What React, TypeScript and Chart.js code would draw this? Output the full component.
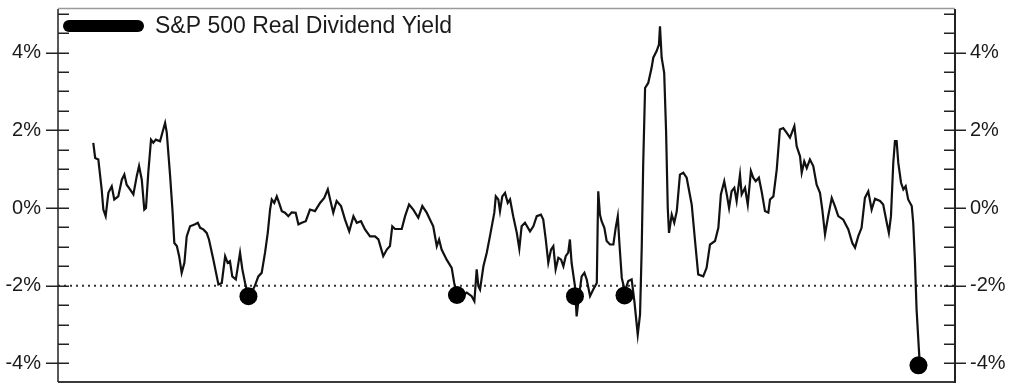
import React, { useEffect, useRef } from "react";
import { Chart, registerables } from "chart.js";

Chart.register(...registerables);

const years: number[] = [
  1983.01, 1983.10, 1983.25, 1983.41, 1983.49, 1983.60, 1983.73, 1983.89, 1984.01, 1984.20,
  1984.37, 1984.49, 1984.60, 1984.76, 1984.92, 1985.08, 1985.19, 1985.32, 1985.44, 1985.52,
  1985.63, 1985.76, 1985.87, 1985.99, 1986.19, 1986.30, 1986.43, 1986.51, 1986.67, 1986.78,
  1986.87, 1986.99, 1987.10, 1987.22, 1987.35, 1987.46, 1987.62, 1987.86, 1987.99, 1988.10,
  1988.25, 1988.41, 1988.52, 1988.73, 1988.97, 1989.13, 1989.29, 1989.41, 1989.52, 1989.63,
  1989.80, 1990.00, 1990.11, 1990.24, 1990.40, 1990.57, 1990.71, 1990.87, 1991.03, 1991.19,
  1991.32, 1991.43, 1991.51, 1991.63, 1991.75, 1991.86, 1991.99, 1992.14, 1992.30, 1992.46,
  1992.65, 1992.78, 1992.94, 1993.13, 1993.33, 1993.57, 1993.81, 1994.01, 1994.18, 1994.29,
  1994.44, 1994.60, 1994.81, 1995.00, 1995.20, 1995.40, 1995.56, 1995.76, 1995.95, 1996.19,
  1996.43, 1996.59, 1996.82, 1996.99, 1997.14, 1997.25, 1997.38, 1997.70, 1997.86, 1998.05,
  1998.25, 1998.49, 1998.68, 1998.89, 1999.05, 1999.20, 1999.37, 1999.48, 1999.60, 1999.84,
  2000.08, 2000.20, 2000.32, 2000.56, 2000.80, 2001.03, 2001.16, 2001.27, 2001.35, 2001.43,
  2001.59, 2001.75, 2001.90, 2002.11, 2002.18, 2002.30, 2002.38, 2002.49, 2002.62, 2002.75,
  2002.86, 2003.01, 2003.18, 2003.30, 2003.41, 2003.57, 2003.81, 2003.97, 2004.13, 2004.33,
  2004.44, 2004.56, 2004.68, 2004.81, 2004.92, 2005.03, 2005.16, 2005.29, 2005.40, 2005.51,
  2005.63, 2005.71, 2005.79, 2005.95, 2006.03, 2006.14, 2006.27, 2006.40, 2006.51, 2006.67,
  2006.82, 2006.99, 2007.03, 2007.06, 2007.14, 2007.22, 2007.35, 2007.46, 2007.62, 2007.78,
  2007.89, 2007.99, 2008.06, 2008.18, 2008.33, 2008.49, 2008.65, 2008.78, 2008.94, 2009.05,
  2009.13, 2009.20, 2009.29, 2009.44, 2009.60, 2009.68, 2009.84, 2009.95, 2010.00, 2010.08,
  2010.20, 2010.29, 2010.37, 2010.43, 2010.56, 2010.68, 2010.80, 2010.95, 2011.11, 2011.27,
  2011.51, 2011.67, 2011.82, 2012.06, 2012.22, 2012.38, 2012.62, 2012.78, 2012.90, 2013.06,
  2013.18, 2013.29, 2013.41, 2013.54, 2013.65, 2013.81, 2013.89, 2014.05, 2014.18, 2014.33,
  2014.44, 2014.56, 2014.71, 2014.84, 2015.00, 2015.16, 2015.24, 2015.40, 2015.56, 2015.71,
  2015.87, 2016.03, 2016.19, 2016.40, 2016.51, 2016.67, 2016.75, 2016.87, 2016.99, 2017.14,
  2017.30, 2017.46, 2017.62, 2017.73, 2017.86, 2018.01, 2018.18, 2018.33, 2018.49, 2018.73,
  2018.97, 2019.16, 2019.29, 2019.44, 2019.60, 2019.76, 2019.92, 2020.08, 2020.24, 2020.48,
  2020.63, 2020.80, 2020.90, 2021.00, 2021.11, 2021.19, 2021.27, 2021.35, 2021.48, 2021.59,
  2021.70, 2021.82, 2021.99, 2022.06, 2022.14, 2022.22, 2022.33, 2022.38,
];

const realYield: number[] = [
  1.68, 1.29, 1.25, 0.48, -0.04, -0.21, 0.39, 0.56, 0.22, 0.30,
  0.73, 0.86, 0.60, 0.48, 0.35, 0.82, 1.08, 0.73, -0.04, 0.00,
  0.91, 1.76, 1.68, 1.76, 1.72, 1.94, 2.19, 1.94, 0.82, -0.04,
  -0.90, -0.98, -1.24, -1.67, -1.41, -0.73, -0.47, -0.42, -0.38, -0.51,
  -0.55, -0.64, -0.81, -1.33, -1.97, -1.93, -1.24, -1.41, -1.37, -1.76,
  -1.84, -1.15, -1.58, -1.93, -2.27, -2.15, -2.00, -1.76, -1.67, -1.15,
  -0.64, -0.04, 0.22, 0.13, 0.30, 0.13, -0.08, -0.12, -0.21, -0.11,
  -0.12, -0.42, -0.38, -0.34, -0.04, -0.08, 0.13, 0.26, 0.48, 0.22,
  -0.12, 0.18, 0.05, -0.30, -0.60, -0.21, -0.38, -0.34, -0.55, -0.73,
  -0.73, -0.81, -1.24, -1.07, -0.98, -0.47, -0.54, -0.54, -0.21, 0.09,
  -0.04, -0.25, 0.05, -0.12, -0.30, -0.47, -0.98, -0.81, -1.07, -1.33,
  -1.54, -1.93, -2.23, -2.27, -2.18, -2.27, -2.40, -1.58, -2.01, -2.10,
  -1.50, -1.15, -0.73, -0.12, 0.30, 0.22, -0.08, 0.30, 0.39, 0.13,
  0.22, -0.21, -0.64, -1.05, -0.47, -0.38, -0.60, -0.47, -0.21, -0.17,
  -0.30, -0.81, -1.41, -1.07, -0.98, -1.58, -1.28, -1.33, -1.50, -1.24,
  -1.15, -0.81, -1.41, -2.01, -2.79, -2.27, -1.76, -1.67, -1.84, -2.27,
  -2.10, -1.93, -0.50, 0.43, -0.17, -0.34, -0.51, -0.85, -0.94, -0.94,
  -0.51, -0.21, -0.85, -1.80, -2.14, -1.88, -1.84, -2.40, -3.26, -2.74,
  -1.02, 1.12, 3.09, 3.22, 3.61, 3.87, 4.04, 4.21, 4.68, 3.87,
  3.48, 1.98, 0.00, -0.64, -0.17, -0.38, -0.08, 0.86, 0.91, 0.78,
  0.09, -0.85, -1.71, -1.76, -1.54, -0.94, -0.85, -0.51, 0.35, 0.69,
  0.35, 0.00, 0.43, 0.52, 0.18, 0.86, 0.35, 0.52, 0.09, 0.95,
  0.78, 0.69, 0.78, 0.43, -0.08, -0.12, 0.22, 0.30, 0.99, 2.02,
  2.06, 1.94, 1.81, 2.11, 1.59, 1.33, 0.91, 1.20, 1.03, 1.25,
  1.08, 0.60, 0.39, -0.04, -0.68, -0.21, 0.26, 0.05, -0.21, -0.30,
  -0.55, -0.90, -1.02, -0.73, -0.51, 0.26, 0.43, -0.04, 0.24, 0.18,
  0.09, -0.38, -0.64, -0.21, 1.16, 1.72, 1.72, 1.16, 0.65, 0.48,
  0.56, 0.22, 0.05, -0.38, -1.33, -2.61, -3.64, -4.07,
];

const markerYears: number[] = [1990.40, 2000.33, 2005.95, 2008.31, 2022.31];
const markerValues: number[] = [-2.27, -2.24, -2.27, -2.25, -4.05];

const thresholdValue = -2;
const yTickValues: number[] = [-4, -2, 0, 2, 4];
const legendLabel = "S&P 500 Real Dividend Yield";

const X_MIN = 1981.33;
const X_MAX = 2024.05;
const Y_MIN = -4.48;
const Y_MAX = 5.15;

const FONT = "'Liberation Sans', Arial, Helvetica, sans-serif";

const framePlugin = {
  id: "framePlugin",
  afterDraw(chart: any) {
    const { ctx, chartArea: a } = chart;
    const ys = chart.scales.y;
    const seg = (x1: number, y1: number, x2: number, y2: number) => {
      ctx.beginPath();
      ctx.moveTo(x1, y1);
      ctx.lineTo(x2, y2);
      ctx.stroke();
    };
    ctx.save();
    // top border
    ctx.strokeStyle = "#9a9a9a";
    ctx.lineWidth = 1.5;
    seg(a.left, a.top + 0.5, a.right, a.top + 0.5);
    // bottom border
    ctx.strokeStyle = "#3a3a3a";
    ctx.lineWidth = 2;
    seg(a.left, a.bottom, a.right, a.bottom);
    // axes
    ctx.strokeStyle = "#222";
    ctx.lineWidth = 1.5;
    seg(a.left, a.top + 1, a.left, a.bottom);
    ctx.lineWidth = 2;
    seg(a.right, a.top + 1, a.right, a.bottom + 1);
    // ticks
    ctx.lineWidth = 1.5;
    ctx.strokeStyle = "#222";
    for (let i = -8; i <= 10; i++) {
      const v = i * 0.5;
      const py = Math.round(ys.getPixelForValue(v)) + 0.25;
      if (py < a.top + 2 || py > a.bottom - 1) continue;
      const major = i % 4 === 0;
      if (major) {
        seg(a.left - 12, py, a.left + 11, py);
        seg(a.right - 11, py, a.right + 11, py);
      } else {
        seg(a.left, py, a.left + 11, py);
        seg(a.right - 11, py, a.right, py);
      }
    }
    // legend
    ctx.strokeStyle = "#000";
    ctx.lineCap = "round";
    ctx.lineWidth = 12;
    seg(a.left + 11, 26, a.left + 80, 26);
    ctx.lineCap = "butt";
    ctx.fillStyle = "#1a1a1a";
    ctx.font = `23px ${FONT}`;
    ctx.textBaseline = "middle";
    ctx.textAlign = "left";
    ctx.fillText(legendLabel, a.left + 97, 27);
    ctx.restore();
  },
};

export default function App() {
  const canvasRef = useRef<HTMLCanvasElement | null>(null);

  useEffect(() => {
    document.body.style.margin = "0";
    document.body.style.background = "#fff";
    const canvas = canvasRef.current;
    if (!canvas) return;

    const lineData = years.map((x, i) => ({ x, y: realYield[i] }));
    const markerData = markerYears.map((x, i) => ({ x, y: markerValues[i] }));
    const thresholdData = [
      { x: X_MIN, y: thresholdValue },
      { x: X_MAX, y: thresholdValue },
    ];

    const tickFont = { family: FONT, size: 20 };

    const chart = new Chart(canvas, {
      type: "line",
      data: {
        datasets: [
          {
            label: "markers",
            data: markerData,
            showLine: false,
            pointRadius: 9,
            pointBackgroundColor: "#000",
            pointBorderColor: "#000",
            pointBorderWidth: 0,
            order: 0,
          },
          {
            label: legendLabel,
            data: lineData,
            borderColor: "#111",
            borderWidth: 2.2,
            pointRadius: 0,
            tension: 0,
            order: 1,
          },
          {
            label: "threshold",
            data: thresholdData,
            borderColor: "#333",
            borderWidth: 2,
            borderDash: [2, 4],
            pointRadius: 0,
            order: 2,
          },
        ],
      },
      options: {
        animation: false,
        responsive: false,
        devicePixelRatio: 1,
        layout: { autoPadding: false, padding: { top: 8, bottom: 4, left: 0, right: 0 } },
        plugins: {
          legend: { display: false },
          tooltip: { enabled: false },
        },
        scales: {
          x: {
            type: "linear",
            min: X_MIN,
            max: X_MAX,
            display: false,
          },
          y: {
            type: "linear",
            position: "left",
            min: Y_MIN,
            max: Y_MAX,
            afterBuildTicks: (s: any) => {
              s.ticks = yTickValues.map((v) => ({ value: v }));
            },
            afterFit: (s: any) => {
              s.width = 58;
              s.paddingTop = 0;
              s.paddingBottom = 0;
            },
            grid: { display: false, drawTicks: false },
            border: { display: false },
            ticks: {
              padding: 17,
              color: "#1a1a1a",
              font: tickFont,
              callback: (v: any) => `${v}%`,
            },
          },
          y2: {
            type: "linear",
            position: "right",
            min: Y_MIN,
            max: Y_MAX,
            afterBuildTicks: (s: any) => {
              s.ticks = yTickValues.map((v) => ({ value: v }));
            },
            afterFit: (s: any) => {
              s.width = 69;
              s.paddingTop = 0;
              s.paddingBottom = 0;
            },
            grid: { display: false, drawTicks: false },
            border: { display: false },
            ticks: {
              padding: 15,
              color: "#1a1a1a",
              font: tickFont,
              callback: (v: any) => `${v}%`,
            },
          },
        },
      },
      plugins: [framePlugin],
    });

    return () => chart.destroy();
  }, []);

  return (
    <div style={{ position: "absolute", left: 0, top: 0, width: 1024, height: 386 }}>
      <canvas ref={canvasRef} width={1024} height={386} style={{ display: "block", width: 1024, height: 386 }} />
    </div>
  );
}
